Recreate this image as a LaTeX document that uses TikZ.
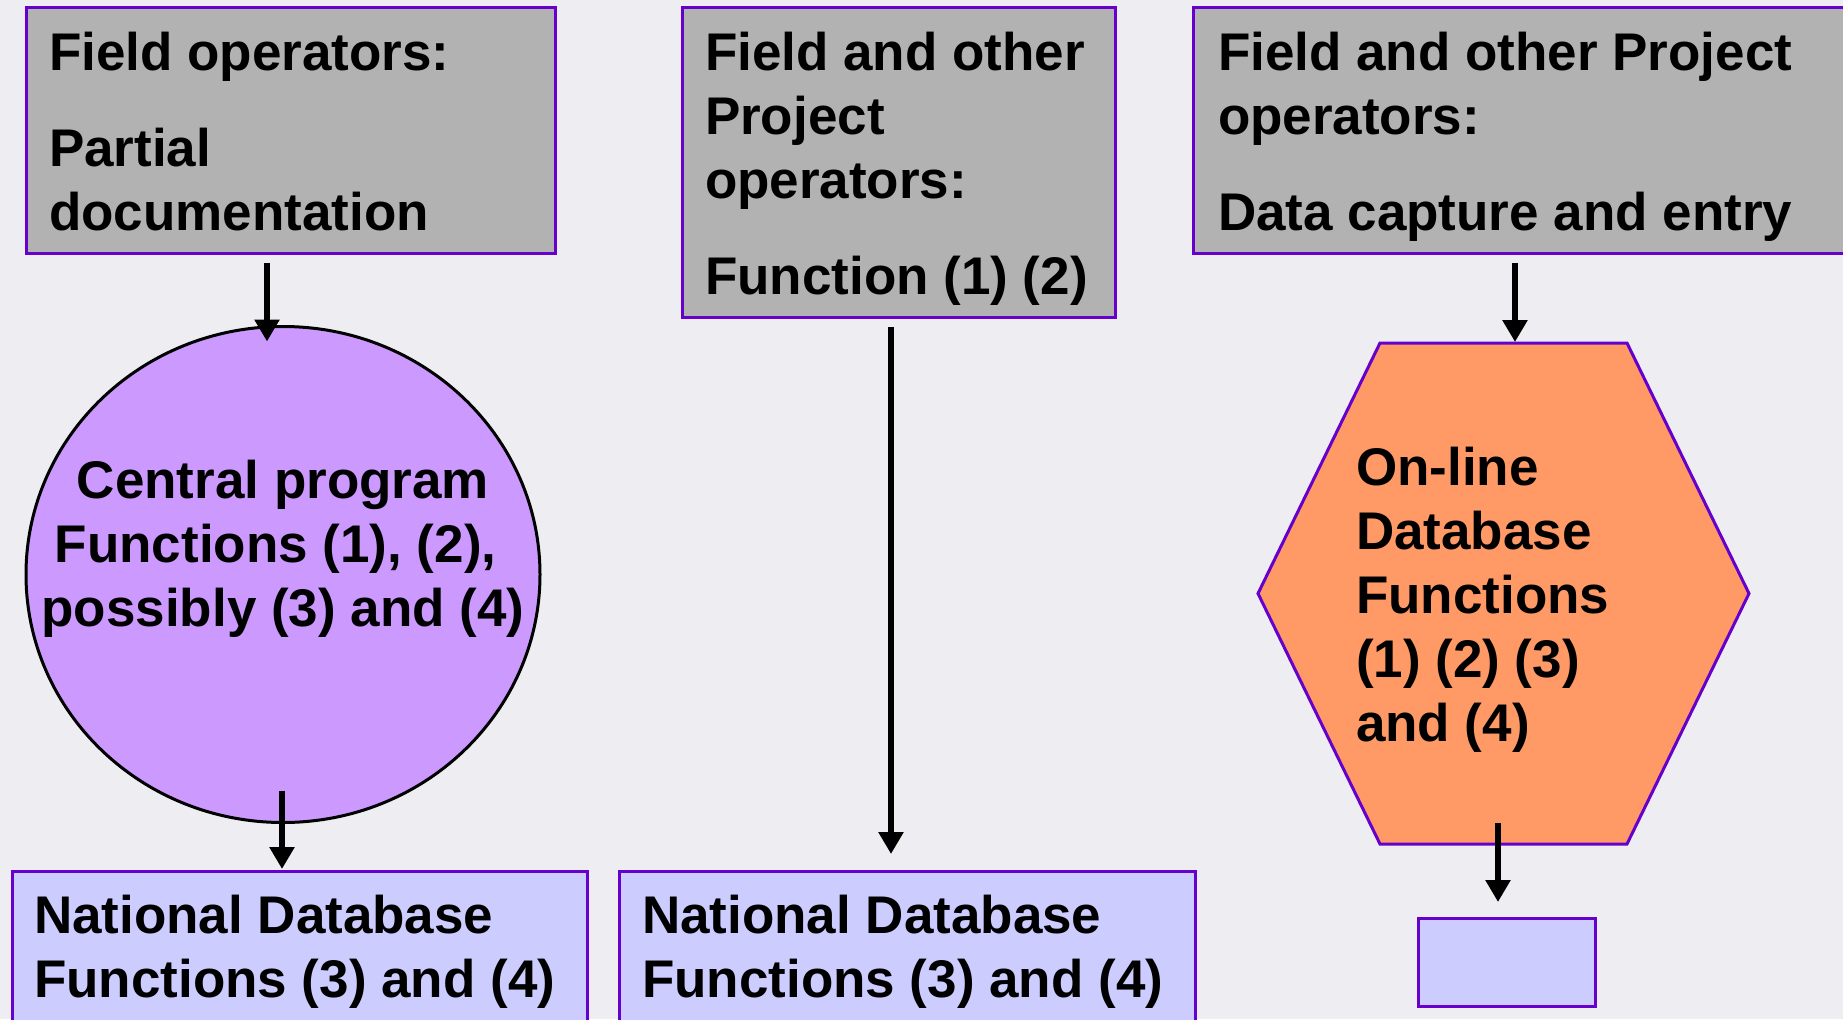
\documentclass[tikz,border=0pt]{standalone}
\usepackage{fontspec}
\setmainfont{Liberation Sans}
\usetikzlibrary{arrows.meta,shapes.geometric,calc}
\definecolor{bgc}{HTML}{EEEEF2}
\definecolor{boxgrey}{HTML}{B2B2B2}
\definecolor{edgepurple}{HTML}{6600CC}
\definecolor{circfill}{HTML}{CC99FF}
\definecolor{hexfill}{HTML}{FF9966}
\definecolor{dbfill}{HTML}{CCCCFF}
\newcommand{\txtfont}{\fontsize{26.5}{32}\selectfont\bfseries}
\begin{document}
\begin{tikzpicture}[x=0.5pt,y=-0.5pt,
  greybox/.style={draw=edgepurple, fill=boxgrey, line width=1.5pt, rectangle, inner sep=0pt, outer sep=0pt, anchor=north west},
  dbbox/.style={draw=edgepurple, fill=dbfill, line width=1.5pt, rectangle, inner sep=0pt, outer sep=0pt, anchor=north west},
  txt/.style={inner sep=0pt, outer sep=0pt, font=\txtfont},
  arr/.style={line width=3pt, -{Triangle[length=11pt,width=12pt]}},
]
\useasboundingbox (0,0) rectangle (1843,1019);
\clip (0,0) rectangle (1843,1019);
\fill[bgc] (0,0) rectangle (1843,1019);

% top boxes
\node[greybox, minimum width=264.5pt, minimum height=123pt] (box1) at (26,7) {};
\node[greybox, minimum width=216.5pt, minimum height=155pt] (box2) at (682,7) {};
\node[greybox, minimum width=353.5pt, minimum height=123pt] (box3) at (1193,7) {};

% circle
\node[ellipse, draw=black, line width=1.5pt, fill=circfill, minimum width=257pt, minimum height=248pt, inner sep=0pt, outer sep=0pt] (circ) at (283,574.5) {};

% hexagon frame
\node[rectangle, inner sep=0pt, outer sep=0pt, minimum width=245.5pt, minimum height=250.5pt] (hex) at (1503.5,593.5) {};
\draw[draw=edgepurple, fill=hexfill, line width=1.5pt]
  ($(hex.north)+(-123.5,0)$) -- ($(hex.north)+(123.5,0)$) -- (hex.east)
  -- ($(hex.south)+(123.5,0)$) -- ($(hex.south)+(-123.5,0)$) -- (hex.west) -- cycle;

% bottom boxes
\node[dbbox, minimum width=287.5pt, minimum height=114.5pt] (box4) at (12,871) {};
\node[dbbox, minimum width=288pt, minimum height=114.5pt] (box5) at (619,871) {};
\node[dbbox, minimum width=88.5pt, minimum height=44pt] (box6) at (1418,918) {};

% texts
\node[txt, anchor=base west] (t1) at (49,70) {\parbox[t]{400pt}{Field operators:\\[16pt]Partial\\documentation}};
\node[txt, anchor=base west] (t2) at (705,70) {\parbox[t]{400pt}{Field and other\\Project\\operators:\\[16pt]Function (1) (2)}};
\node[txt, anchor=base west] (t3) at (1218,70) {\parbox[t]{400pt}{Field and other Project\\operators:\\[16pt]Data capture and entry}};
\node[txt, anchor=base] (tcirc) at (283,498) {\parbox[t]{300pt}{\centering Central program\\Functions (1), (2),\hspace*{0.278em}\mbox{}\\possibly (3) and (4)}};
\node[txt, anchor=base west] (thex) at (1356,485) {\parbox[t]{200pt}{On-line\\Database\\Functions\\(1) (2) (3)\\and (4)}};
\node[txt, anchor=base west] (t4) at (34,933) {\parbox[t]{400pt}{National Database\\Functions (3) and (4)}};
\node[txt, anchor=base west] (t5) at (642,933) {\parbox[t]{400pt}{National Database\\Functions (3) and (4)}};

% arrows
\draw[arr] ($(box1.south)+(-23.5,10)$) -- ($(circ.north)+(-16,15)$);
\draw[arr] ($(circ.south)+(-1,-32)$) -- ($(box4.north)+(-17.5,-2)$);
\draw[arr] ($(box2.south)+(-7.5,10)$) -- ($(box5.north)+(-16,-17)$);
\draw[arr] ($(box3.south west)+(322,10)$) -- ($(hex.north)+(11.5,-1)$);
\draw[arr] ($(hex.south)+(-5.5,-21)$) -- ($(box6.north)+(-8.5,-16)$);
\end{tikzpicture}
\end{document}
